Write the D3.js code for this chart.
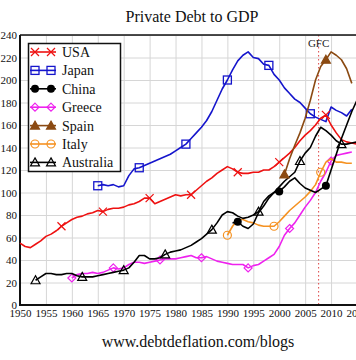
<!DOCTYPE html>
<html>
<head>
<meta charset="utf-8">
<script src="https://cdnjs.cloudflare.com/ajax/libs/d3/7.8.5/d3.min.js"></script>
<style>
html,body{margin:0;padding:0;background:#fff;overflow:hidden;}
svg{display:block;}
</style>
</head>
<body>
<svg id="chart" width="356" height="360"></svg>
<script>
// ---------- DATA ----------
const xTicks = [1950,1955,1960,1965,1970,1975,1980,1985,1990,1995,2000,2005,2010,2015];
const yTicks = [0,20,40,60,80,100,120,140,160,180,200,220,240];
const seriesNames = ["USA","Japan","China","Greece","Spain","Italy","Australia"];

const usaYears = d3.range(1950, 2016);
const usaValues = [55,52,51,54,57,61,63,66,70,73,76,78,79,81,82,84,83,85,86,86,
  87,89,90,92,95,95,90,92,94,96,98,97,98,98,102,106,110,113,117,120,
  123,121,118,117,117,118,118,120,120,123,127,131,135,140,146,151,155,160,166,169,
  160,153,147,145,144,143];
const usaMarkers = [1958,1966,1975,1983,1992,2000,2009];

const japanYears = d3.range(1965, 2015);
const japanValues = [106,107,106,107,105,106,115,121,122,124,126,128,130,132,134,137,140,143,148,153,
  158,164,172,182,192,200,209,217,222,225,220,219,214,213,205,200,193,188,183,180,
  175,170,167,165,163,176,173,171,168,174];
const japanMarkers = [1965,1973,1982,1990,1998,2006];

const chinaYears = d3.range(1991, 2016);
const chinaValues = [73,74,70,68,72,82,88,95,100,101,105,110,113,108,104,102,100,103,106,120,
  134,148,160,172,182];
const chinaMarkers = [1992,2000,2009];

const greeceYears = d3.range(1960, 2015);
const greeceValues = [24,27,28,28,29,28,29,31,33,32,33,36,38,38,37,38,39,40,41,41,
  41,42,43,44,42,42,43,41,39,38,37,36,36,36,33,35,36,39,42,45,
  52,62,68,73,80,87,93,100,110,118,128,133,134,135,136];
const greeceMarkers = [1960,1968,1977,1985,1994,2002,2010];

const spainYears = d3.range(2001, 2015);
const spainValues = [116,130,142,153,166,182,200,212,218,225,222,218,210,197];
const spainMarkers = [2001,2009];

const italyYears = d3.range(1990, 2015);
const italyValues = [62,70,76,76,74,73,71,70,70,70,74,79,84,88,92,96,101,107,118,127,
  130,127,127,126,126];
const italyMarkers = [1990,1999,2008];

const australiaYears = d3.range(1953, 2016);
const australiaValues = [22,25,28,28,27,27,28,28,26,25,25,25,26,27,28,29,30,31,33,38,
  44,44,41,41,42,45,47,48,49,51,53,56,59,63,67,73,80,83,82,79,
  77,78,80,83,92,97,100,105,110,114,118,128,135,140,150,158,155,151,146,143,
  143,144,145];
const australiaMarkers = [1953,1962,1970,1978,1987,1996,2004,2012];

const seriesColors = ["#ee1111","#1515cc","#000000","#ee22ee","#8b4a12","#f59222","#000000"];
const seriesShapes = ["x","square","dot","diamond","tri","circle","triopen"];

const gfcYear = 2007.6;

// ---------- LAYOUT ----------
const svg = d3.select("#chart");
const L = 20, R = 357, T = 35, B = 305;
const x = d3.scaleLinear().domain([1950, 2015]).range([L, R]);
const y = d3.scaleLinear().domain([0, 240]).range([B, T]);

const serif = "'Liberation Serif','Times New Roman',serif";

// gridlines
svg.append("g")
  .attr("transform", `translate(0,${B})`)
  .call(d3.axisBottom(x).tickValues(xTicks.slice(1)).tickSize(-(B - T)).tickFormat(""))
  .call(g => g.select(".domain").remove())
  .call(g => g.selectAll("line").attr("stroke", "#d6d6d6").attr("stroke-width", 1));
svg.append("g")
  .attr("transform", `translate(${L},0)`)
  .call(d3.axisLeft(y).tickValues(yTicks.slice(1)).tickSize(-(R - L)).tickFormat(""))
  .call(g => g.select(".domain").remove())
  .call(g => g.selectAll("line").attr("stroke", "#d6d6d6").attr("stroke-width", 1));

// GFC line
svg.append("line")
  .attr("x1", x(gfcYear)).attr("x2", x(gfcYear))
  .attr("y1", T).attr("y2", B)
  .attr("stroke", "#dd4444").attr("stroke-width", 1).attr("stroke-dasharray", "1.5,2.5");
svg.append("text")
  .attr("x", x(gfcYear)).attr("y", T + 12)
  .attr("text-anchor", "middle")
  .attr("font-family", serif).attr("font-size", 11).attr("fill", "#222")
  .text("GFC");

// tick labels
svg.append("g")
  .attr("transform", `translate(0,${B})`)
  .call(d3.axisBottom(x).tickValues(xTicks).tickSize(0).tickPadding(4).tickFormat(d3.format("d")))
  .call(g => g.select(".domain").remove())
  .call(g => g.selectAll("text").attr("font-family", serif).attr("font-size", 11).attr("fill", "#111"));
svg.append("g")
  .attr("transform", `translate(${L},0)`)
  .call(d3.axisLeft(y).tickValues(yTicks).tickSize(0).tickPadding(3))
  .call(g => g.select(".domain").remove())
  .call(g => g.selectAll("text").attr("font-family", serif).attr("font-size", 11).attr("fill", "#111"));

// frame
svg.append("line").attr("x1", L).attr("x2", L).attr("y1", T).attr("y2", B + 1)
  .attr("stroke", "#111").attr("stroke-width", 2);
svg.append("line").attr("x1", L - 1).attr("x2", 356).attr("y1", B).attr("y2", B)
  .attr("stroke", "#111").attr("stroke-width", 2);
svg.append("line").attr("x1", L).attr("x2", 356).attr("y1", T).attr("y2", T)
  .attr("stroke", "#111").attr("stroke-width", 1.5);

// marker drawing
function drawMarker(g, shape, color, cx, cy) {
  const s = 4;
  if (shape === "x") {
    g.append("path").attr("d", `M${cx-s},${cy-s}L${cx+s},${cy+s}M${cx-s},${cy+s}L${cx+s},${cy-s}`)
      .attr("stroke", color).attr("stroke-width", 1.2).attr("fill", "none");
  } else if (shape === "square") {
    g.append("rect").attr("x", cx - s).attr("y", cy - s).attr("width", 2*s).attr("height", 2*s)
      .attr("fill", "none").attr("stroke", color).attr("stroke-width", 1.3);
  } else if (shape === "dot") {
    g.append("circle").attr("cx", cx).attr("cy", cy).attr("r", 4).attr("fill", color);
  } else if (shape === "circle") {
    g.append("circle").attr("cx", cx).attr("cy", cy).attr("r", 4)
      .attr("fill", "none").attr("stroke", color).attr("stroke-width", 1.2);
  } else if (shape === "diamond") {
    g.append("path").attr("d", `M${cx},${cy-s}L${cx+s},${cy}L${cx},${cy+s}L${cx-s},${cy}Z`)
      .attr("fill", "none").attr("stroke", color).attr("stroke-width", 1.2);
  } else if (shape === "tri" || shape === "triopen") {
    g.append("path").attr("d", `M${cx},${cy-s-0.5}L${cx+s+0.5},${cy+s-0.5}L${cx-s-0.5},${cy+s-0.5}Z`)
      .attr("fill", shape === "tri" ? color : "none").attr("stroke", color).attr("stroke-width", 1.2);
  }
}

const allSeries = [
  {years: usaYears, values: usaValues, markers: usaMarkers},
  {years: japanYears, values: japanValues, markers: japanMarkers},
  {years: chinaYears, values: chinaValues, markers: chinaMarkers},
  {years: greeceYears, values: greeceValues, markers: greeceMarkers},
  {years: spainYears, values: spainValues, markers: spainMarkers},
  {years: italyYears, values: italyValues, markers: italyMarkers},
  {years: australiaYears, values: australiaValues, markers: australiaMarkers}
];

const line = d3.line().x(d => x(d[0])).y(d => y(d[1]));
const plot = svg.append("g");
// draw order: back to front
const order = [1, 0, 3, 5, 6, 2, 4];
order.forEach(i => {
  const s = allSeries[i];
  const pts = s.years.map((yr, k) => [yr, s.values[k]]);
  plot.append("path").datum(pts).attr("d", line)
    .attr("fill", "none").attr("stroke", seriesColors[i]).attr("stroke-width", 1.6)
    .attr("stroke-linejoin", "round");
  const mg = plot.append("g");
  s.markers.forEach(m => {
    const k = s.years.indexOf(m);
    if (k >= 0) drawMarker(mg, seriesShapes[i], seriesColors[i], x(m), y(s.values[k]));
  });
});

// legend
const lg = svg.append("g");
lg.append("rect").attr("x", 28.5).attr("y", 43.5).attr("width", 92).attr("height", 128)
  .attr("fill", "#fff").attr("stroke", "#111").attr("stroke-width", 1.5);
seriesNames.forEach((name, i) => {
  const yy = 52 + i * 18.4;
  lg.append("line").attr("x1", 30).attr("x2", 56).attr("y1", yy).attr("y2", yy)
    .attr("stroke", seriesColors[i]).attr("stroke-width", 1.6);
  drawMarker(lg, seriesShapes[i], seriesColors[i], 35, yy);
  drawMarker(lg, seriesShapes[i], seriesColors[i], 51, yy);
  lg.append("text").attr("x", 62).attr("y", yy + 5)
    .attr("font-family", serif).attr("font-size", 14).attr("fill", "#111")
    .text(name);
});

// title and footer
svg.append("text").attr("x", 192).attr("y", 22).attr("text-anchor", "middle")
  .attr("font-family", serif).attr("font-size", 16).attr("fill", "#111")
  .text("Private Debt to GDP");
svg.append("text").attr("x", 198).attr("y", 347).attr("text-anchor", "middle")
  .attr("font-family", serif).attr("font-size", 16).attr("fill", "#111")
  .text("www.debtdeflation.com/blogs");
</script>
</body>
</html>
